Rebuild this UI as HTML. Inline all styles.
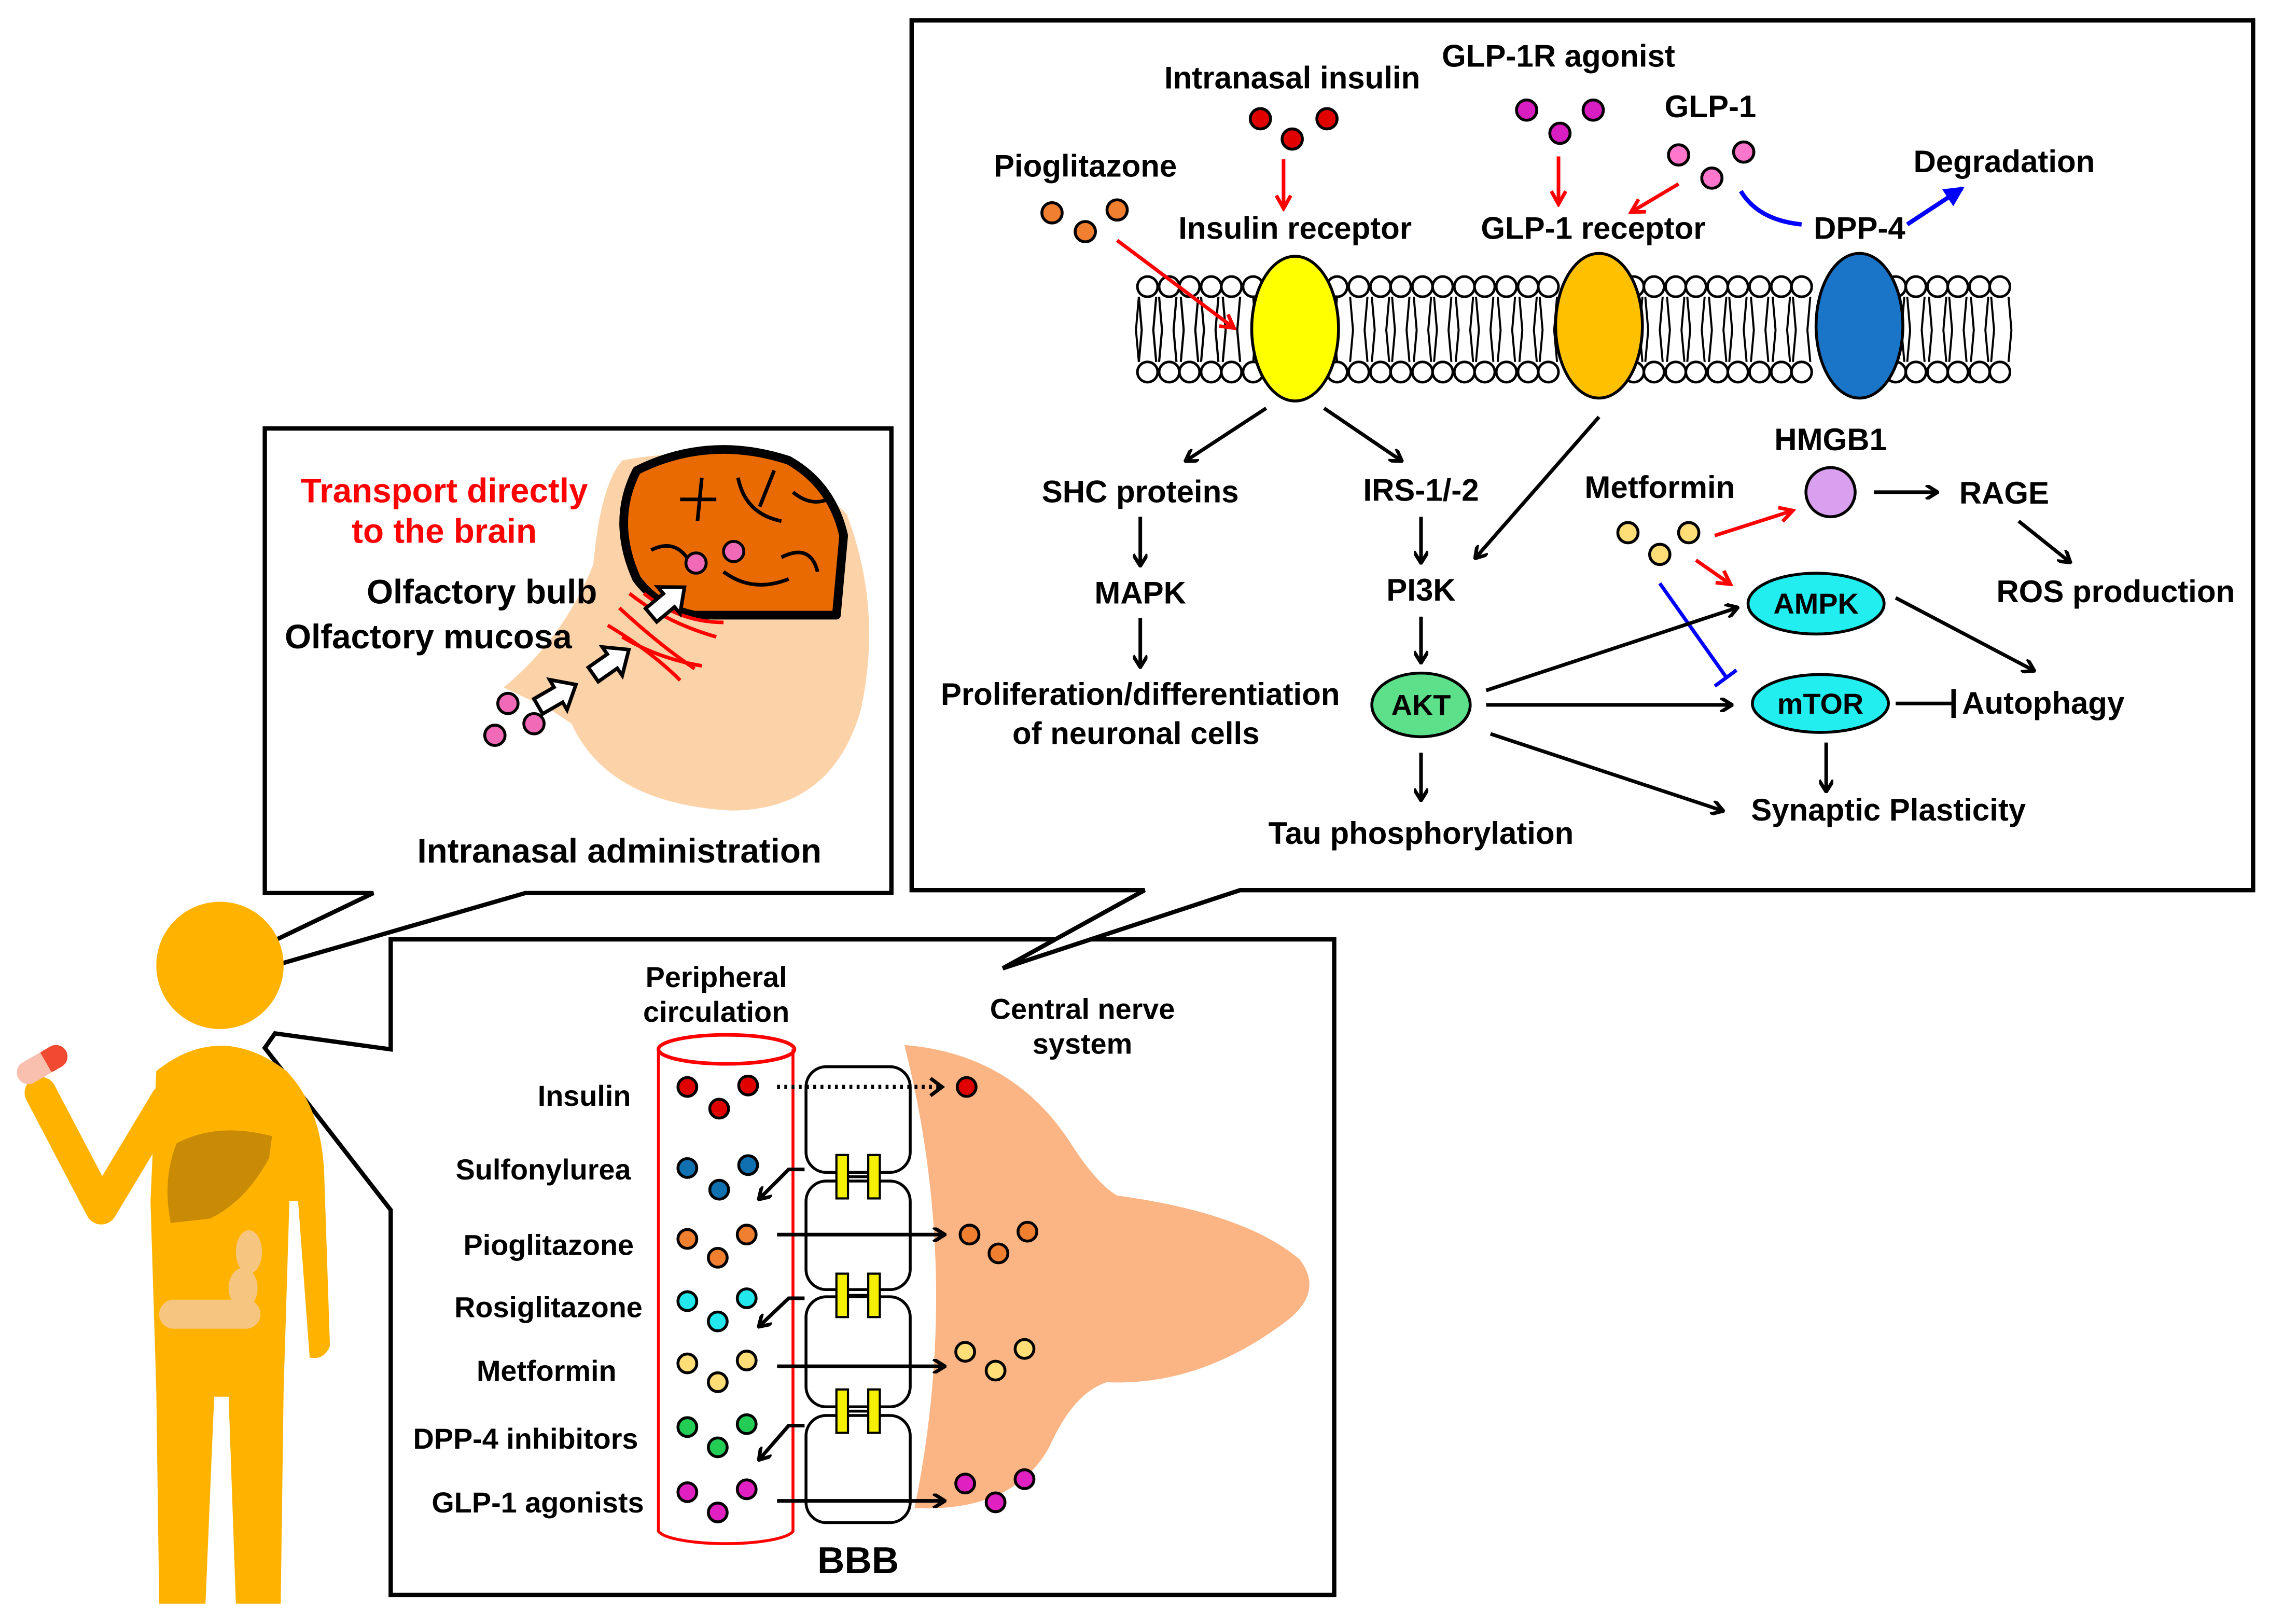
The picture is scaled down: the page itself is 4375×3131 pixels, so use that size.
<!DOCTYPE html>
<html><head><meta charset="utf-8"><style>
html,body{margin:0;padding:0;background:#fff;}
svg{display:block;}
text{font-family:"Liberation Sans",Arial,sans-serif;font-weight:bold;fill:#000;}
</style></head><body>
<svg width="4375" height="3131" viewBox="0 0 1568 1122" xmlns="http://www.w3.org/2000/svg">
<defs>
<marker id="ab" markerWidth="10" markerHeight="10" refX="8" refY="5" orient="auto" markerUnits="userSpaceOnUse"><path d="M1,0 L9,5 L1,10" fill="none" stroke="#000" stroke-width="2.5"/></marker>
<marker id="ar" markerWidth="12" markerHeight="12" refX="9" refY="6" orient="auto" markerUnits="userSpaceOnUse"><path d="M1,1 L10,6 L1,11" fill="none" stroke="#f00" stroke-width="2.5"/></marker>
<marker id="abl" markerWidth="14" markerHeight="14" refX="12" refY="7" orient="auto" markerUnits="userSpaceOnUse"><path d="M0,0 L14,7 L0,14 z" fill="#00f"/></marker>
</defs>
<rect width="1568" height="1122" fill="#fff"/>

<polygon points="270,649 922,649 922,1102 270,1102 270,836 183,724 190,714 270,725" fill="#fff" stroke="#000" stroke-width="3"/>
<polygon points="183,296 616,296 616,617 363,617 190,667 183,653 258,617 183,617" fill="#fff" stroke="#000" stroke-width="3"/>
<polygon points="630,14 1557,14 1557,615 857,615 693,669 791,615 630,615" fill="#fff" stroke="#000" stroke-width="3"/>

<g fill="#ffb300">
<circle cx="152" cy="667" r="44"/>
<path d="M108,740 Q152,705 198,740 Q222,765 224,810 L228,930 Q224,940 214,938 L206,830 L200,830 L196,960 L194,1108 L163,1108 L158,965 L148,965 L142,1108 L110,1108 L108,960 L104,830 Z"/>
</g>
<polyline points="115,760 70,835 28,755" fill="none" stroke="#ffb300" stroke-width="22" stroke-linejoin="round" stroke-linecap="round"/>
<g transform="rotate(-30 30 735)"><rect x="10" y="727" width="20" height="16" rx="8" fill="#f9c0b0"/><rect x="26" y="727" width="22" height="16" rx="8" fill="#f04a30"/><rect x="22" y="727" width="10" height="16" fill="#f9c0b0"/></g>
<path d="M122,790 Q150,775 188,785 L186,800 Q170,830 145,842 L118,845 Q112,815 122,790Z" fill="#c98a05"/>
<g fill="#f6c680"><ellipse cx="172" cy="865" rx="9" ry="15"/><ellipse cx="168" cy="890" rx="10" ry="14"/><rect x="110" y="898" width="70" height="20" rx="10"/></g>

<path d="M430,318 Q530,300 585,355 Q610,420 595,490 Q575,560 505,560 Q420,555 395,500 L380,490 L348,475 Q390,440 410,390 Q415,335 430,318Z" fill="#fcd3a8"/>
<path d="M440,325 Q490,300 545,318 Q575,335 583,370 L578,425 L480,425 Q455,420 440,400 Q422,360 440,325Z" fill="#e86a00" stroke="#000" stroke-width="6" stroke-linejoin="round"/>
<g fill="none" stroke="#000" stroke-width="2.5"><path d="M485,330 L482,360 M470,345 L495,345 M510,330 Q515,355 540,360 M535,325 L525,350 M450,380 Q470,370 480,395 M540,385 Q560,375 565,395 M500,395 Q520,410 545,400 M548,340 Q560,350 572,345"/></g>
<g fill="none" stroke="#f00" stroke-width="2.5"><path d="M435,410 Q460,430 495,440 M428,420 Q455,445 480,462 M420,432 Q450,450 470,470 M445,410 Q470,430 500,430 M430,440 Q455,455 485,460"/></g>
<g stroke="#000" stroke-width="2" fill="#f06ab8"><circle cx="481" cy="389" r="7"/><circle cx="507" cy="381" r="7"/><circle cx="351" cy="486" r="7"/><circle cx="369" cy="500" r="7"/><circle cx="342" cy="508" r="7"/></g>
<g fill="#fff" stroke="#000" stroke-width="2.5">
<polygon points="0,-6 16,-6 16,-12 30,0 16,12 16,6 0,6" transform="translate(372,488) rotate(-30)"/>
<polygon points="0,-6 16,-6 16,-12 30,0 16,12 16,6 0,6" transform="translate(410,466) rotate(-35)"/>
<polygon points="0,-6 16,-6 16,-12 30,0 16,12 16,6 0,6" transform="translate(450,425) rotate(-40)"/>
</g>
<text x="307" y="347" font-size="23.5" text-anchor="middle" style="fill:#f00">Transport directly</text>
<text x="307" y="375" font-size="23.5" text-anchor="middle" style="fill:#f00">to the brain</text>
<text x="333" y="417" font-size="23.5" text-anchor="middle">Olfactory bulb</text>
<text x="296" y="448" font-size="23.5" text-anchor="middle">Olfactory mucosa</text>
<text x="428" y="596" font-size="23.5" text-anchor="middle">Intranasal administration</text>

<g stroke="#000" stroke-width="1.5" fill="none">
<path d="M787,205 L789,228 L787,250 M799,205 L797,228 L799,250 M801,205 L803,228 L801,250 M813,205 L811,228 L813,250 M816,205 L818,228 L816,250 M828,205 L826,228 L828,250 M830,205 L832,228 L830,250 M842,205 L840,228 L842,250 M845,205 L847,228 L845,250 M857,205 L855,228 L857,250"/>
</g>
<g stroke="#000" stroke-width="1.8" fill="#fff">
<circle cx="793" cy="198" r="7"/><circle cx="793" cy="257" r="7"/>
<circle cx="808" cy="198" r="7"/><circle cx="808" cy="257" r="7"/>
<circle cx="822" cy="198" r="7"/><circle cx="822" cy="257" r="7"/>
<circle cx="837" cy="198" r="7"/><circle cx="837" cy="257" r="7"/>
<circle cx="851" cy="198" r="7"/><circle cx="851" cy="257" r="7"/>
<circle cx="866" cy="198" r="7"/><circle cx="866" cy="257" r="7"/>
<circle cx="924" cy="198" r="7"/><circle cx="924" cy="257" r="7"/>
<circle cx="939" cy="198" r="7"/><circle cx="939" cy="257" r="7"/>
<circle cx="954" cy="198" r="7"/><circle cx="954" cy="257" r="7"/>
<circle cx="968" cy="198" r="7"/><circle cx="968" cy="257" r="7"/>
<circle cx="983" cy="198" r="7"/><circle cx="983" cy="257" r="7"/>
<circle cx="997" cy="198" r="7"/><circle cx="997" cy="257" r="7"/>
<circle cx="1012" cy="198" r="7"/><circle cx="1012" cy="257" r="7"/>
<circle cx="1026" cy="198" r="7"/><circle cx="1026" cy="257" r="7"/>
<circle cx="1041" cy="198" r="7"/><circle cx="1041" cy="257" r="7"/>
<circle cx="1056" cy="198" r="7"/><circle cx="1056" cy="257" r="7"/>
<circle cx="1070" cy="198" r="7"/><circle cx="1070" cy="257" r="7"/>
<circle cx="1129" cy="198" r="7"/><circle cx="1129" cy="257" r="7"/>
<circle cx="1143" cy="198" r="7"/><circle cx="1143" cy="257" r="7"/>
<circle cx="1158" cy="198" r="7"/><circle cx="1158" cy="257" r="7"/>
<circle cx="1172" cy="198" r="7"/><circle cx="1172" cy="257" r="7"/>
<circle cx="1187" cy="198" r="7"/><circle cx="1187" cy="257" r="7"/>
<circle cx="1201" cy="198" r="7"/><circle cx="1201" cy="257" r="7"/>
<circle cx="1216" cy="198" r="7"/><circle cx="1216" cy="257" r="7"/>
<circle cx="1231" cy="198" r="7"/><circle cx="1231" cy="257" r="7"/>
<circle cx="1245" cy="198" r="7"/><circle cx="1245" cy="257" r="7"/>
<circle cx="1310" cy="198" r="7"/><circle cx="1310" cy="257" r="7"/>
<circle cx="1324" cy="198" r="7"/><circle cx="1324" cy="257" r="7"/>
<circle cx="1339" cy="198" r="7"/><circle cx="1339" cy="257" r="7"/>
<circle cx="1353" cy="198" r="7"/><circle cx="1353" cy="257" r="7"/>
<circle cx="1368" cy="198" r="7"/><circle cx="1368" cy="257" r="7"/>
<circle cx="1382" cy="198" r="7"/><circle cx="1382" cy="257" r="7"/>
</g>
<g stroke="#000" stroke-width="1.4" fill="none">
<path d="M866,205 L868,228 L866,250 M924,205 L922,228 L924,250 M933,205 L935,228 L933,250 M945,205 L943,228 L945,250 M948,205 L950,228 L948,250 M960,205 L958,228 L960,250 M962,205 L964,228 L962,250 M974,205 L972,228 L974,250 M977,205 L979,228 L977,250 M989,205 L987,228 L989,250 M991,205 L993,228 L991,250 M1003,205 L1001,228 L1003,250 M1006,205 L1008,228 L1006,250 M1018,205 L1016,228 L1018,250 M1020,205 L1022,228 L1020,250 M1032,205 L1030,228 L1032,250 M1035,205 L1037,228 L1035,250 M1047,205 L1045,228 L1047,250 M1050,205 L1052,228 L1050,250 M1062,205 L1060,228 L1062,250 M1064,205 L1066,228 L1064,250 M1076,205 L1074,228 L1076,250"/>
<path d="M1123,205 L1125,228 L1123,250 M1135,205 L1133,228 L1135,250 M1137,205 L1139,228 L1137,250 M1149,205 L1147,228 L1149,250 M1152,205 L1154,228 L1152,250 M1164,205 L1162,228 L1164,250 M1166,205 L1168,228 L1166,250 M1178,205 L1176,228 L1178,250 M1181,205 L1183,228 L1181,250 M1193,205 L1191,228 L1193,250 M1195,205 L1197,228 L1195,250 M1207,205 L1205,228 L1207,250 M1210,205 L1212,228 L1210,250 M1222,205 L1220,228 L1222,250 M1225,205 L1227,228 L1225,250 M1237,205 L1235,228 L1237,250 M1239,205 L1241,228 L1239,250 M1251,205 L1249,228 L1251,250"/>
<path d="M1304,205 L1306,228 L1304,250 M1316,205 L1314,228 L1316,250 M1318,205 L1320,228 L1318,250 M1330,205 L1328,228 L1330,250 M1333,205 L1335,228 L1333,250 M1345,205 L1343,228 L1345,250 M1347,205 L1349,228 L1347,250 M1359,205 L1357,228 L1359,250 M1362,205 L1364,228 L1362,250 M1374,205 L1372,228 L1374,250 M1376,205 L1378,228 L1376,250 M1388,205 L1390,228 L1388,250 M787,205 L785,228 L787,250"/>
</g>
<ellipse cx="895" cy="227" rx="30" ry="50" fill="#ffff00" stroke="#000" stroke-width="2"/>
<ellipse cx="1105" cy="225" rx="30" ry="50" fill="#ffc000" stroke="#000" stroke-width="2"/>
<ellipse cx="1285" cy="225" rx="30" ry="50" fill="#1a75c8" stroke="#000" stroke-width="2"/>

<g font-size="21.5" text-anchor="middle">
<text x="893" y="61">Intranasal insulin</text>
<text x="1077" y="46">GLP-1R agonist</text>
<text x="1182" y="81">GLP-1</text>
<text x="1385" y="119">Degradation</text>
<text x="750" y="122">Pioglitazone</text>
<text x="895" y="165">Insulin receptor</text>
<text x="1101" y="165">GLP-1 receptor</text>
<text x="1285" y="165">DPP-4</text>
<text x="788" y="347">SHC proteins</text>
<text x="982" y="346">IRS-1/-2</text>
<text x="788" y="417">MAPK</text>
<text x="982" y="415">PI3K</text>
<text x="788" y="487">Proliferation/differentiation</text>
<text x="785" y="514">of neuronal cells</text>
<text x="982" y="583">Tau phosphorylation</text>
<text x="1265" y="311">HMGB1</text>
<text x="1385" y="348">RAGE</text>
<text x="1462" y="416">ROS production</text>
<text x="1147" y="344">Metformin</text>
<text x="1412" y="493">Autophagy</text>
<text x="1305" y="567">Synaptic Plasticity</text>
</g>
<g stroke="#000" stroke-width="2">
<circle cx="871" cy="82" r="7" fill="#e00000"/><circle cx="917" cy="82" r="7" fill="#e00000"/><circle cx="893" cy="96" r="7" fill="#e00000"/>
<circle cx="1055" cy="76" r="7" fill="#d81ec0"/><circle cx="1101" cy="76" r="7" fill="#d81ec0"/><circle cx="1078" cy="92" r="7" fill="#d81ec0"/>
<circle cx="1160" cy="107" r="7" fill="#ff77cc"/><circle cx="1205" cy="105" r="7" fill="#ff77cc"/><circle cx="1183" cy="123" r="7" fill="#ff77cc"/>
<circle cx="727" cy="147" r="7" fill="#f08030"/><circle cx="772" cy="145" r="7" fill="#f08030"/><circle cx="750" cy="160" r="7" fill="#f08030"/>
<circle cx="1125" cy="368" r="7" fill="#ffdd77"/><circle cx="1167" cy="368" r="7" fill="#ffdd77"/><circle cx="1147" cy="383" r="7" fill="#ffdd77"/>
</g>
<g stroke="#f00" stroke-width="2.5" fill="none" marker-end="url(#ar)">
<line x1="887" y1="110" x2="887" y2="143"/>
<line x1="1077" y1="108" x2="1077" y2="140"/>
<line x1="1160" y1="127" x2="1128" y2="146"/>
<line x1="772" y1="166" x2="852" y2="226"/>
<line x1="1185" y1="370" x2="1238" y2="353"/>
<line x1="1172" y1="387" x2="1195" y2="403"/>
</g>
<path d="M1203,132 Q1215,152 1245,155" fill="none" stroke="#00f" stroke-width="3"/>
<line x1="1318" y1="155" x2="1356" y2="130" stroke="#00f" stroke-width="3" marker-end="url(#abl)"/>
<line x1="1147" y1="403" x2="1193" y2="468" stroke="#00f" stroke-width="2.5"/>
<line x1="1185" y1="474" x2="1200" y2="463" stroke="#00f" stroke-width="2.5"/>
<g stroke="#000" stroke-width="2.5" fill="none" marker-end="url(#ab)">
<line x1="875" y1="282" x2="820" y2="318"/>
<line x1="915" y1="282" x2="968" y2="318"/>
<line x1="1105" y1="288" x2="1020" y2="385"/>
<line x1="788" y1="357" x2="788" y2="390"/>
<line x1="788" y1="427" x2="788" y2="460"/>
<line x1="982" y1="357" x2="982" y2="388"/>
<line x1="982" y1="426" x2="982" y2="457"/>
<line x1="1027" y1="477" x2="1200" y2="420"/>
<line x1="1027" y1="487" x2="1196" y2="487"/>
<line x1="1030" y1="507" x2="1190" y2="560"/>
<line x1="982" y1="520" x2="982" y2="552"/>
<line x1="1295" y1="340" x2="1338" y2="340"/>
<line x1="1395" y1="360" x2="1430" y2="388"/>
<line x1="1310" y1="413" x2="1405" y2="463"/>
<line x1="1262" y1="513" x2="1262" y2="546"/>
</g>
<line x1="1310" y1="486" x2="1350" y2="486" stroke="#000" stroke-width="2.5"/>
<line x1="1350" y1="476" x2="1350" y2="496" stroke="#000" stroke-width="3"/>
<circle cx="1265" cy="340" r="17" fill="#d9a0f0" stroke="#000" stroke-width="2"/>
<ellipse cx="982" cy="487" rx="34" ry="22" fill="#5de08a" stroke="#000" stroke-width="2"/>
<ellipse cx="1255" cy="417" rx="47" ry="21" fill="#22eef0" stroke="#000" stroke-width="2"/>
<ellipse cx="1258" cy="486" rx="47" ry="20" fill="#22eef0" stroke="#000" stroke-width="2"/>
<g font-size="20" text-anchor="middle"><text x="982" y="494">AKT</text><text x="1255" y="424">AMPK</text><text x="1258" y="493">mTOR</text></g>

<path d="M625,722 Q700,728 740,790 Q758,818 772,826 Q860,838 898,870 Q915,892 890,912 Q830,958 765,955 Q742,962 725,1000 Q700,1045 632,1042 Q665,880 625,722Z" fill="#fbb584"/>
<g fill="#fff" stroke="#000" stroke-width="2">
<rect x="557" y="737" width="72" height="73" rx="14"/>
<rect x="557" y="816" width="72" height="75" rx="14"/>
<rect x="557" y="896" width="72" height="76" rx="14"/>
<rect x="557" y="978" width="72" height="74" rx="14"/>
</g>
<g fill="#f5f000" stroke="#000" stroke-width="1.5">
<rect x="578" y="798" width="8" height="30"/><rect x="600" y="798" width="8" height="30"/>
<rect x="578" y="880" width="8" height="30"/><rect x="600" y="880" width="8" height="30"/>
<rect x="578" y="960" width="8" height="30"/><rect x="600" y="960" width="8" height="30"/>
</g>
<g stroke="#000" stroke-width="2"><line x1="586" y1="813" x2="600" y2="813"/><line x1="586" y1="895" x2="600" y2="895"/><line x1="586" y1="975" x2="600" y2="975"/></g>
<path d="M455,725 L455,1058 A47,10 0 0 0 548,1058 L548,725" fill="none" stroke="#f00" stroke-width="2"/>
<ellipse cx="502" cy="725" rx="47" ry="10" fill="none" stroke="#f00" stroke-width="2.5"/>
<g font-size="20" text-anchor="middle">
<text x="495" y="682">Peripheral</text><text x="495" y="706">circulation</text>
<text x="748" y="704">Central nerve</text><text x="748" y="728">system</text>
</g>
<text x="593" y="1087" font-size="26" text-anchor="middle">BBB</text>
<g font-size="20" text-anchor="end">
<text x="436" y="764">Insulin</text>
<text x="436" y="815">Sulfonylurea</text>
<text x="438" y="867">Pioglitazone</text>
<text x="444" y="910">Rosiglitazone</text>
<text x="426" y="954">Metformin</text>
<text x="441" y="1001">DPP-4 inhibitors</text>
<text x="445" y="1045">GLP-1 agonists</text>
</g>
<g stroke="#000" stroke-width="2">
<g fill="#e00000"><circle cx="475" cy="751" r="6.5"/><circle cx="517" cy="750" r="6.5"/><circle cx="497" cy="766" r="6.5"/><circle cx="668" cy="751" r="6.5"/></g>
<g fill="#1070b0"><circle cx="475" cy="807" r="6.5"/><circle cx="517" cy="805" r="6.5"/><circle cx="497" cy="822" r="6.5"/></g>
<g fill="#f08030"><circle cx="475" cy="856" r="6.5"/><circle cx="516" cy="853" r="6.5"/><circle cx="496" cy="869" r="6.5"/><circle cx="670" cy="853" r="6.5"/><circle cx="690" cy="866" r="6.5"/><circle cx="710" cy="851" r="6.5"/></g>
<g fill="#22e8ee"><circle cx="475" cy="899" r="6.5"/><circle cx="516" cy="897" r="6.5"/><circle cx="496" cy="913" r="6.5"/></g>
<g fill="#ffdd77"><circle cx="475" cy="942" r="6.5"/><circle cx="516" cy="940" r="6.5"/><circle cx="496" cy="955" r="6.5"/><circle cx="667" cy="934" r="6.5"/><circle cx="688" cy="947" r="6.5"/><circle cx="708" cy="932" r="6.5"/></g>
<g fill="#22cc55"><circle cx="475" cy="986" r="6.5"/><circle cx="516" cy="984" r="6.5"/><circle cx="496" cy="1000" r="6.5"/></g>
<g fill="#e020c0"><circle cx="475" cy="1031" r="6.5"/><circle cx="516" cy="1029" r="6.5"/><circle cx="496" cy="1045" r="6.5"/><circle cx="667" cy="1025" r="6.5"/><circle cx="688" cy="1038" r="6.5"/><circle cx="708" cy="1022" r="6.5"/></g>
</g>
<line x1="537" y1="751" x2="650" y2="751" stroke="#000" stroke-width="3" stroke-dasharray="2,3"/>
<path d="M643,745 L651,751 L643,757" fill="none" stroke="#000" stroke-width="2.5"/>
<g stroke="#000" stroke-width="2.5" fill="none" marker-end="url(#ab)">
<line x1="537" y1="853" x2="652" y2="853"/>
<line x1="537" y1="944" x2="652" y2="944"/>
<line x1="537" y1="1037" x2="652" y2="1037"/>
<polyline points="556,808 545,808 525,828"/>
<polyline points="556,897 545,897 525,916"/>
<polyline points="556,985 545,985 525,1008"/>
</g>
</svg>
</body></html>
